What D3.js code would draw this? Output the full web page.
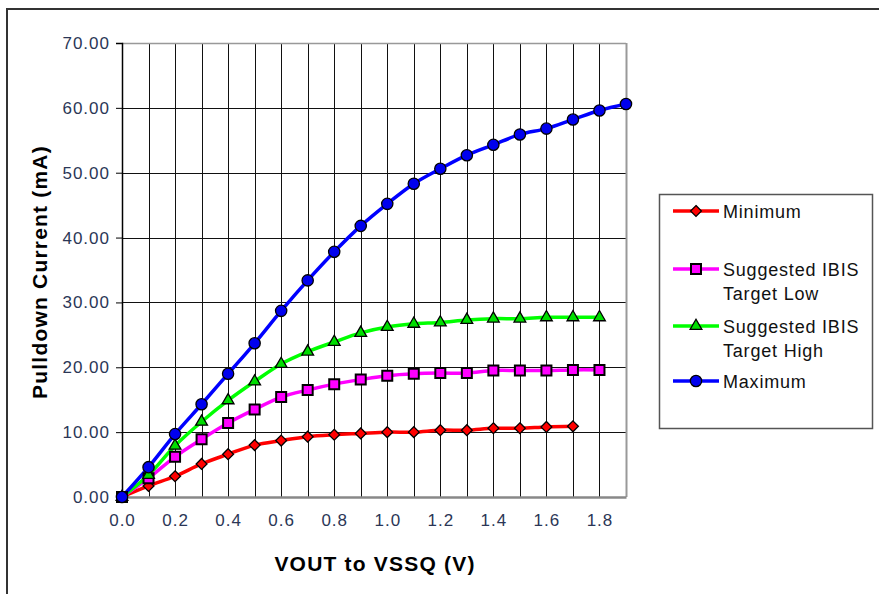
<!DOCTYPE html>
<html>
<head>
<meta charset="utf-8">
<script src="https://cdn.jsdelivr.net/npm/d3@7"></script>
<style>
  body { margin: 0; background: #fff; }
  text { font-family: "Liberation Sans", Arial, sans-serif; }
</style>
</head>
<body>
<div id="chart"></div>
<script>
// data
var vout = [0.0, 0.1, 0.2, 0.3, 0.4, 0.5, 0.6, 0.7, 0.8, 0.9, 1.0, 1.1, 1.2, 1.3, 1.4, 1.5, 1.6, 1.7, 1.8, 1.9];
var minimum = [0, 1.7, 3.2, 5.1, 6.6, 8.0, 8.7, 9.3, 9.6, 9.8, 10.0, 10.0, 10.3, 10.3, 10.6, 10.6, 10.8, 10.9];
var targetLow = [0, 2.9, 6.2, 8.9, 11.4, 13.5, 15.4, 16.5, 17.4, 18.1, 18.7, 19.0, 19.1, 19.1, 19.5, 19.5, 19.5, 19.6, 19.6];
var targetHigh = [0, 3.4, 7.9, 11.6, 14.9, 17.8, 20.5, 22.4, 23.9, 25.3, 26.2, 26.7, 26.9, 27.3, 27.5, 27.5, 27.7, 27.7, 27.7];
var maximum = [0, 4.6, 9.7, 14.3, 19.0, 23.7, 28.7, 33.4, 37.8, 41.8, 45.2, 48.3, 50.6, 52.7, 54.3, 55.9, 56.8, 58.2, 59.6, 60.6];
var yTicks = [0, 10, 20, 30, 40, 50, 60, 70];
var xTickLabels = [0.0, 0.2, 0.4, 0.6, 0.8, 1.0, 1.2, 1.4, 1.6, 1.8];

var series = [
    {name: ["Minimum"], values: minimum, color: "#ff0000", fill: "#ff0000", shape: "diamond"},
    {name: ["Suggested IBIS", "Target Low"], values: targetLow, color: "#ff00ff", fill: "#ff00ff", shape: "square"},
    {name: ["Suggested IBIS", "Target High"], values: targetHigh, color: "#00ff00", fill: "#00dd00", shape: "triangle"},
    {name: ["Maximum"], values: maximum, color: "#0000ff", fill: "#0000ee", shape: "circle"}
];

var W = 879, H = 594;
var margin = {top: 43, left: 122},
    width = 504, height = 454;

var svg = d3.select("#chart").append("svg")
    .attr("width", W)
    .attr("height", H);

// outer frame (top + left edges visible)
svg.append("path")
    .attr("d", "M7,600 L7,9 L879,9")
    .attr("fill", "none")
    .attr("stroke", "#333")
    .attr("stroke-width", 2);

var g = svg.append("g")
    .attr("transform", "translate(" + margin.left + "," + margin.top + ")");

var x = d3.scaleLinear().domain([0, 1.9]).range([0, width]);
var y = d3.scaleLinear().domain([0, 70]).range([height, 0]);

// grid
g.append("g").selectAll("line.vg")
    .data(vout.slice(1, vout.length - 1))
    .enter().append("line")
    .attr("x1", function(d) { return Math.round(x(d)) + 0.5; })
    .attr("x2", function(d) { return Math.round(x(d)) + 0.5; })
    .attr("y1", 0).attr("y2", height)
    .attr("stroke", "#111").attr("stroke-width", 1);

g.append("g").selectAll("line.hg")
    .data(yTicks.slice(1))
    .enter().append("line")
    .attr("x1", 0).attr("x2", width)
    .attr("y1", function(d) { return Math.round(y(d)) + 0.5; })
    .attr("y2", function(d) { return Math.round(y(d)) + 0.5; })
    .attr("stroke", function(d) { return d == 70 ? "#999" : "#111"; })
    .attr("stroke-width", function(d) { return d == 70 ? 1.5 : 1; });

// right border of plot
g.append("line")
    .attr("x1", width + 0.5).attr("x2", width + 0.5)
    .attr("y1", 0).attr("y2", height)
    .attr("stroke", "#999").attr("stroke-width", 2);

// y axis
var yAxis = g.append("g")
    .call(d3.axisLeft(y).tickValues(yTicks).tickSize(6).tickFormat(d3.format(".2f")));
yAxis.select(".domain").attr("stroke", "#000").attr("stroke-width", 1.5);
yAxis.selectAll(".tick line").attr("stroke", "#000");
yAxis.selectAll("text")
    .attr("x", -12)
    .attr("fill", "#2b3656")
    .style("font-size", "17px")
    .style("letter-spacing", "1px")
    .style("font-family", "Liberation Sans, Arial, sans-serif");

// x axis
var xAxis = g.append("g")
    .attr("transform", "translate(0," + height + ")")
    .call(d3.axisBottom(x).tickValues(xTickLabels).tickSize(0).tickFormat(d3.format(".1f")));
xAxis.select(".domain").attr("stroke", "#888").attr("stroke-width", 2.5);
xAxis.selectAll("text")
    .attr("y", 17)
    .attr("fill", "#2b3656")
    .style("font-size", "17px")
    .style("letter-spacing", "1px")
    .style("font-family", "Liberation Sans, Arial, sans-serif");

// axis titles
svg.append("text")
    .attr("x", 375).attr("y", 571)
    .attr("text-anchor", "middle")
    .style("font-size", "21px")
    .style("font-weight", "bold")
    .style("letter-spacing", "1.2px")
    .text("VOUT to VSSQ (V)");

svg.append("text")
    .attr("transform", "translate(47,272) rotate(-90)")
    .attr("text-anchor", "middle")
    .style("font-size", "21px")
    .style("font-weight", "bold")
    .style("letter-spacing", "1.2px")
    .text("Pulldown Current (mA)");

function symbolFor(shape) {
    if (shape == "diamond") return d3.symbol().type(d3.symbolDiamond2).size(75);
    if (shape == "square") return d3.symbol().type(d3.symbolSquare).size(100);
    if (shape == "triangle") return d3.symbol().type(d3.symbolTriangle).size(60);
    return d3.symbol().type(d3.symbolCircle).size(100);
}

var line = d3.line()
    .x(function(d, i) { return x(vout[i]); })
    .y(function(d) { return y(d); })
    .curve(d3.curveCatmullRom);

series.forEach(function(s) {
    g.append("path")
        .attr("d", line(s.values))
        .attr("fill", "none")
        .attr("stroke", s.color)
        .attr("stroke-width", 3.5);
});

series.forEach(function(s) {
    g.append("g").selectAll("path")
        .data(s.values)
        .enter().append("path")
        .attr("transform", function(d, i) {
            return "translate(" + x(vout[i]) + "," + y(d) + ")";
        })
        .attr("d", symbolFor(s.shape)())
        .attr("fill", s.fill)
        .attr("stroke", "#000")
        .attr("stroke-width", s.shape == "square" ? 2 : 1.3);
});

// legend
var legend = svg.append("g");
legend.append("rect")
    .attr("x", 659.5).attr("y", 194.5)
    .attr("width", 213).attr("height", 234)
    .attr("fill", "#fff")
    .attr("stroke", "#555").attr("stroke-width", 1.5);

var legendY = [211, 269, 326, 381];
series.forEach(function(s, i) {
    var ly = legendY[i];
    legend.append("line")
        .attr("x1", 673).attr("x2", 719)
        .attr("y1", ly).attr("y2", ly)
        .attr("stroke", s.color).attr("stroke-width", 3.5);
    legend.append("path")
        .attr("transform", "translate(696," + ly + ")")
        .attr("d", symbolFor(s.shape)())
        .attr("fill", s.fill)
        .attr("stroke", "#000")
        .attr("stroke-width", s.shape == "square" ? 2 : 1.3);
    s.name.forEach(function(t, j) {
        legend.append("text")
            .attr("x", 723).attr("y", ly + 7 + j * 24)
            .style("font-size", "18px")
            .style("letter-spacing", "0.8px")
            .attr("fill", "#111")
            .text(t);
    });
});
</script>
</body>
</html>
